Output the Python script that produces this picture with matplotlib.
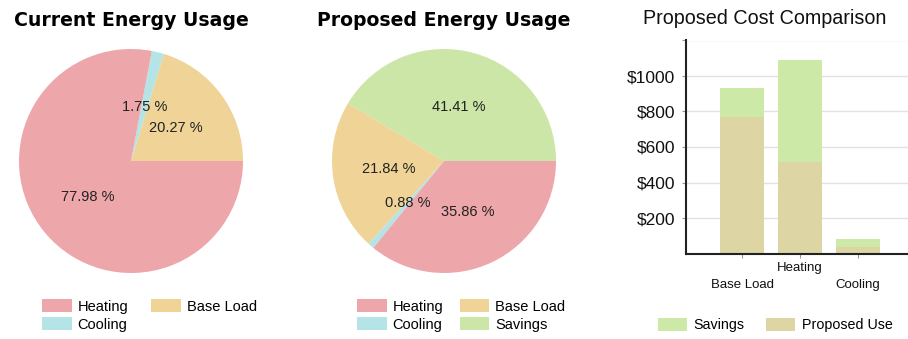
import matplotlib
matplotlib.use("Agg")
import matplotlib.pyplot as plt
from matplotlib.patches import Patch

# ---- data ----
current_labels = ["Base Load", "Cooling", "Heating"]
current_values = [20.27, 1.75, 77.98]

proposed_labels = ["Savings", "Base Load", "Cooling", "Heating"]
proposed_values = [41.41, 21.84, 0.88, 35.86]

bar_categories = ["Base Load", "Heating", "Cooling"]
bar_proposed_use = [770, 515, 37]
bar_savings = [162, 575, 45]
y_ticks = [200, 400, 600, 800, 1000, 1200]
y_tick_labels = ["$200", "$400", "$600", "$800", "$1000", ""]

colors = {
    "Heating": "#EDA7AB",
    "Base Load": "#EFD397",
    "Cooling": "#B4E4E6",
    "Savings": "#CBE6A6",
}
bar_colors = {"Savings": "#CDE9A8", "Proposed Use": "#DDD5A3"}

W, H = 908, 339
fig = plt.figure(figsize=(W / 100, H / 100), dpi=100)
fig.patch.set_facecolor("white")
plt.rcParams["font.family"] = ["Liberation Sans", "DejaVu Sans"]


def px_axes(cx, cy, r):
    return fig.add_axes([(cx - r) / W, (H - cy - r) / H, 2 * r / W, 2 * r / H])


def draw_pie(ax, labels, values):
    wedges, texts, autotexts = ax.pie(
        values,
        colors=[colors[l] for l in labels],
        startangle=0,
        counterclock=True,
        autopct="%1.2f",
        pctdistance=0.5,
        radius=1.0,
        wedgeprops=dict(linewidth=0),
        textprops=dict(fontsize=10.5, color="#222222"),
    )
    for t, v in zip(autotexts, values):
        t.set_text(f"{v:.2f} %")
    ax.set_xlim(-1, 1)
    ax.set_ylim(-1, 1)
    ax.set_aspect("equal")
    ax.axis("off")


ax1 = px_axes(131, 161, 112)
draw_pie(ax1, current_labels, current_values)

ax2 = px_axes(444, 161, 112)
draw_pie(ax2, proposed_labels, proposed_values)

# titles
fig.text(131 / W, 1 - 20 / H, "Current Energy Usage", ha="center", va="center",
         fontsize=13.6, fontweight="bold", family="DejaVu Sans")
fig.text(444 / W, 1 - 20 / H, "Proposed Energy Usage", ha="center", va="center",
         fontsize=13.6, fontweight="bold", family="DejaVu Sans")
fig.text(765 / W, 1 - 18 / H, "Proposed Cost Comparison", ha="center", va="center",
         fontsize=14.2, color="#111111")


def legend(handle_names, color_map, x, y, colspacing):
    handles = [Patch(facecolor=color_map[n], edgecolor="none", label=n) for n in handle_names]
    fig.legend(handles=handles, loc="upper left", bbox_to_anchor=(x / W, 1 - y / H),
               ncol=2, frameon=False, fontsize=10.5, handlelength=2.05, handleheight=1.0,
               handletextpad=0.4, columnspacing=colspacing, labelspacing=0.25,
               borderpad=0, borderaxespad=0)


legend(["Heating", "Cooling", "Base Load"], colors, 42, 299, 1.55)
legend(["Heating", "Cooling", "Base Load", "Savings"], colors, 357, 299, 1.1)

# bar chart
bx0, by_top, bx1, by_bot = 686, 40.5, 908, 253.5
ax3 = fig.add_axes([bx0 / W, (H - by_bot) / H, (bx1 - bx0) / W, (by_bot - by_top) / H])
x = list(range(len(bar_categories)))
ax3.bar(x, bar_proposed_use, width=0.76, color=bar_colors["Proposed Use"], zorder=2)
ax3.bar(x, bar_savings, width=0.76, bottom=bar_proposed_use, color=bar_colors["Savings"], zorder=2)
ax3.set_xlim(-0.966, 2.862)
ax3.set_ylim(0, 1200)
ax3.set_yticks(y_ticks)
ax3.set_yticklabels(y_tick_labels, fontsize=12.5, color="#111111")
ax3.set_xticks(x)
ax3.set_xticklabels(["\n" + c if i % 2 == 0 else c for i, c in enumerate(bar_categories)],
                    fontsize=9.5, color="#111111", linespacing=1.6)
ax3.tick_params(axis="both", length=3, color="#999999", width=0.8)
ax3.tick_params(axis="y", pad=5)
ax3.tick_params(axis="x", pad=3)
ax3.grid(axis="y", color="#E2E2E2", linewidth=1, zorder=0)
ax3.set_axisbelow(True)
for s in ["top", "right"]:
    ax3.spines[s].set_visible(False)
for s in ["left", "bottom"]:
    ax3.spines[s].set_color("#222222")
    ax3.spines[s].set_linewidth(1.5)

bh = [Patch(facecolor=bar_colors["Savings"], edgecolor="none", label="Savings"),
      Patch(facecolor=bar_colors["Proposed Use"], edgecolor="none", label="Proposed Use")]
fig.legend(handles=bh, loc="center left", bbox_to_anchor=(658 / W, 1 - 325 / H), ncol=2,
           frameon=False, fontsize=10.3, handlelength=2.0, handleheight=1.0,
           handletextpad=0.5, columnspacing=1.5, borderpad=0, borderaxespad=0)

fig.savefig("out.png", dpi=100, facecolor="white")
